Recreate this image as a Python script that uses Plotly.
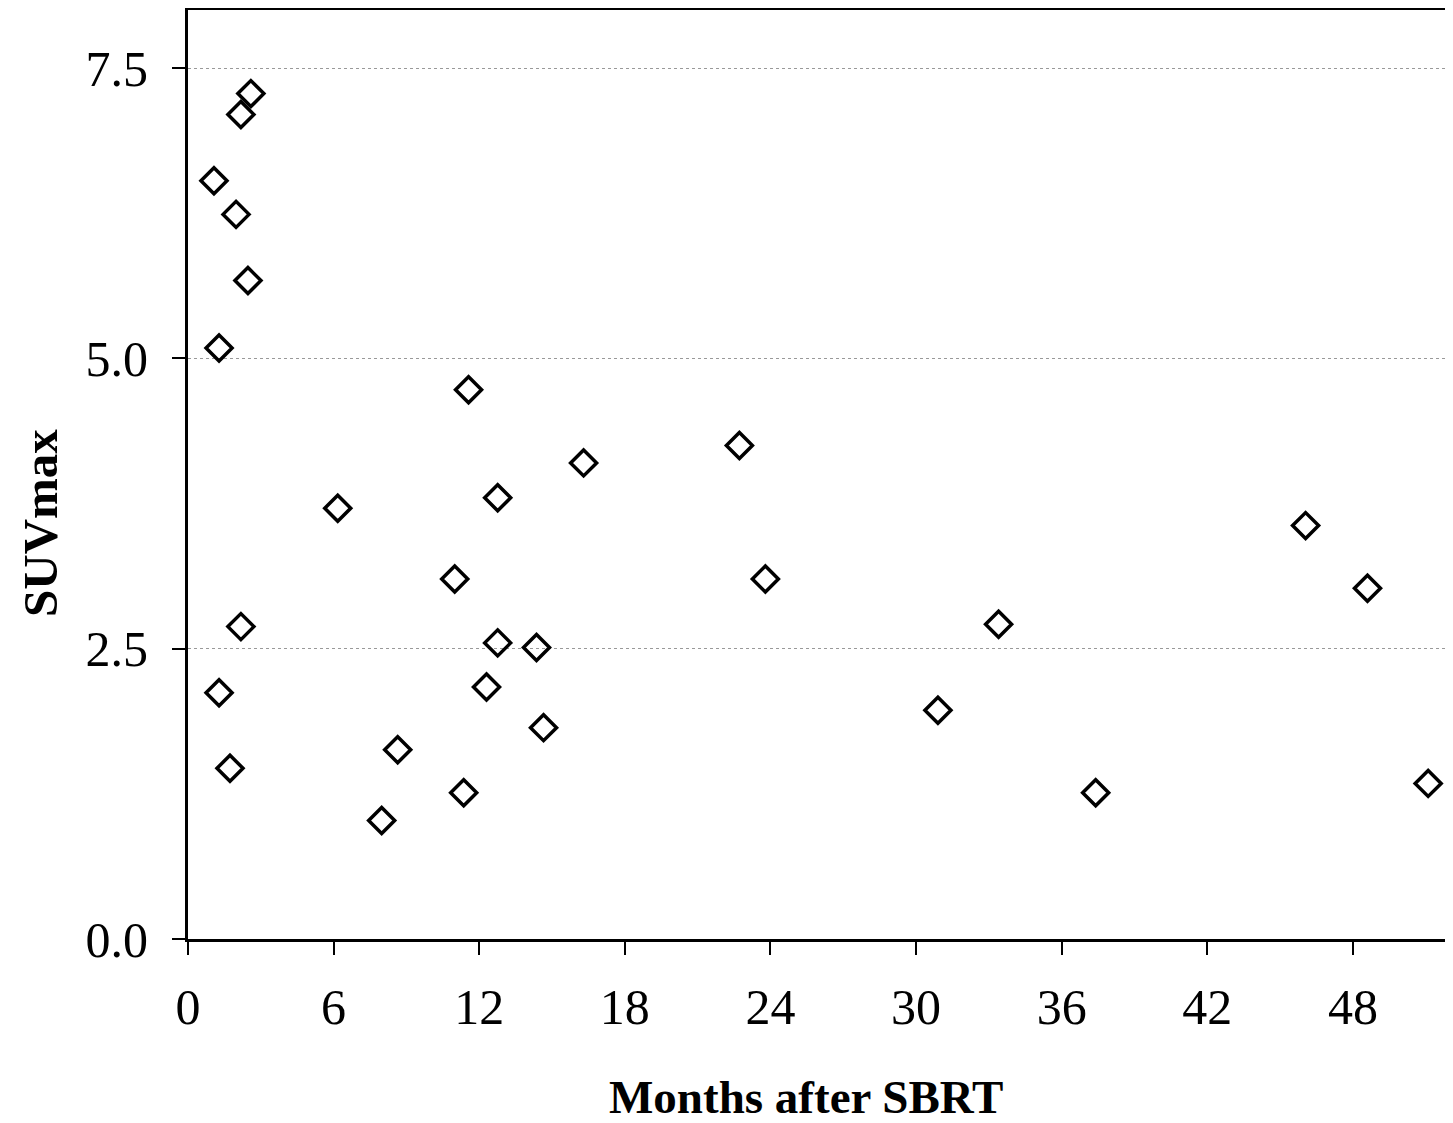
import plotly.graph_objects as go

months = [1.07, 1.28, 1.98, 2.18, 2.59, 2.47, 2.18, 1.28, 1.73,
          6.17, 7.98, 8.64, 10.99, 11.36, 11.56, 12.30, 12.76, 12.76,
          14.36, 14.65, 16.30, 22.72, 23.79, 30.9, 33.4, 37.4,
          46.05, 48.6, 51.1]
suvmax = [6.53, 5.09, 6.24, 7.10, 7.28, 5.67, 2.69, 2.12, 1.47,
          3.71, 1.02, 1.63, 3.10, 1.26, 4.73, 2.17, 3.80, 2.55,
          2.51, 1.82, 4.10, 4.25, 3.10, 1.97, 2.71, 1.26,
          3.56, 3.02, 1.34]

x_ticks = [0, 6, 12, 18, 24, 30, 36, 42, 48]
y_ticks = [0.0, 2.5, 5.0, 7.5]

fig = go.Figure(go.Scatter(
    x=months, y=suvmax, mode="markers",
    marker=dict(symbol="diamond-open", size=20, color="black",
                line=dict(width=3.5, color="black")),
    showlegend=False,
))

font_family = "Liberation Serif, Times New Roman, serif"

# page has an 8px body margin, so the figure is shrunk accordingly
fig.update_layout(
    width=1445, height=1115,
    margin=dict(l=180, r=3, t=2, b=184),
    paper_bgcolor="white", plot_bgcolor="white",
    font=dict(family=font_family, color="black", size=50),
    annotations=[
        dict(text="<b>Months after SBRT</b>", xref="paper", yref="paper",
             x=(806 - 188) / 1262, y=-158 / 929, xanchor="center", yanchor="middle",
             showarrow=False, font=dict(size=47, family=font_family, color="black")),
        dict(text="<b>SUVmax</b>", xref="paper", yref="paper",
             x=(40 - 188) / 1262, y=(939 - 523) / 929, xanchor="center", yanchor="middle",
             textangle=-90, showarrow=False,
             font=dict(size=49, family=font_family, color="black")),
    ],
)
fig.update_xaxes(
    range=[0, 52], tickvals=x_ticks, ticktext=[str(v) for v in x_ticks],
    showgrid=False, zeroline=False, automargin=False,
    showline=True, linecolor="black", linewidth=3, mirror=True,
    ticks="outside", ticklen=13, tickwidth=2, tickcolor="black",
    tickfont=dict(size=50, family=font_family),
    ticklabelstandoff=9,
)
fig.update_yaxes(
    range=[0, 8], tickvals=y_ticks, ticktext=[f"{v:.1f}" for v in y_ticks],
    showgrid=True, gridcolor="#999999", gridwidth=1, griddash="dot",
    zeroline=False, automargin=False,
    showline=True, linecolor="black", linewidth=3, mirror=True,
    ticks="outside", ticklen=13, tickwidth=2, tickcolor="black",
    tickfont=dict(size=50, family=font_family),
    ticklabelstandoff=14,
)

fig.write_html("out.html")
